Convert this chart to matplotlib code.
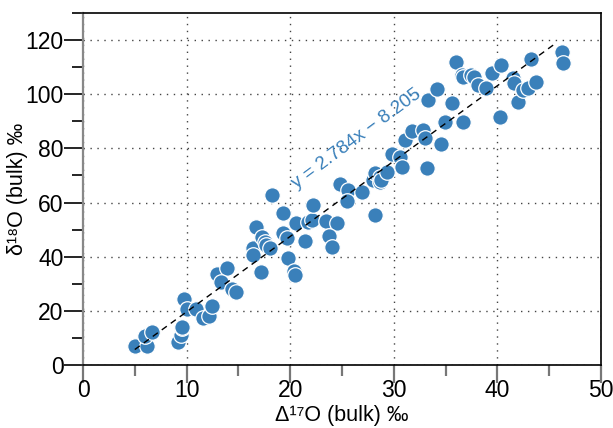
import matplotlib
matplotlib.use("Agg")
import matplotlib.pyplot as plt
import numpy as np
from matplotlib.ticker import MultipleLocator

plt.rcParams['font.family'] = ['Liberation Sans', 'DejaVu Sans']

# Bulk oxygen isotope measurements
d17_bulk = [5.0, 6.15, 6.0, 6.7, 9.2, 9.5, 9.6, 9.55, 9.75, 10.0, 10.9, 11.55,
            12.2, 12.5, 12.9, 13.9, 13.3, 14.35, 14.8, 16.4, 16.4, 16.7, 17.25,
            17.2, 17.6, 17.7, 18.05, 18.2, 19.3, 19.3, 19.65, 19.8, 20.4, 20.5,
            20.6, 21.4, 21.7, 22.1, 22.2, 23.5, 24.5, 23.7, 24.0, 24.8, 25.6,
            25.45, 26.9, 28.2, 28.0, 28.2, 28.7, 28.7, 28.8, 29.3, 29.8, 30.6,
            30.8, 31.1, 31.8, 32.85, 33.0, 33.25, 33.3, 34.2, 34.6, 34.9, 35.6,
            36.7, 36.05, 36.55, 36.7, 37.5, 37.7, 38.15, 38.9, 39.45, 40.35,
            40.3, 41.5, 41.6, 42.0, 42.5, 43.0, 43.2, 43.7, 46.2, 46.3]
d18_bulk = [7.1, 7.1, 10.8, 12.3, 8.6, 11.2, 13.5, 14.2, 24.4, 20.7, 20.6, 17.3,
            18.1, 21.9, 33.6, 35.9, 30.5, 28.0, 26.9, 43.1, 40.5, 51.1, 47.4,
            34.5, 45.5, 44.3, 43.1, 62.8, 56.0, 48.6, 46.8, 39.4, 34.6, 33.1,
            52.3, 45.9, 52.7, 53.7, 59.1, 53.2, 52.3, 47.7, 43.5, 67.0, 64.6,
            60.6, 64.0, 55.5, 68.5, 71.0, 69.5, 67.5, 68.3, 71.4, 78.1, 76.8,
            73.3, 83.0, 86.5, 86.8, 83.9, 72.6, 97.9, 102.0, 81.5, 89.7, 96.9,
            89.9, 111.8, 107.1, 106.3, 107.1, 106.5, 103.4, 102.3, 107.9, 110.8,
            91.7, 105.9, 104.0, 97.2, 101.5, 102.2, 112.9, 104.6, 115.5, 111.4]

# Linear fit y = slope * x + intercept
fit_slope = 2.784
fit_intercept = -8.205
fit_x_range = [5.0, 45.6]

blue = '#3a80ba'

fig = plt.figure(figsize=(6.13, 4.28), dpi=100)
ax = fig.add_axes([0.1354, 0.1472, 0.845, 0.8224])

ax.set_xlim(0, 50)
ax.set_ylim(0, 130)

ax.grid(True, which='major', linestyle=(0, (1, 4)), color='#444444', linewidth=1.0)
ax.set_axisbelow(True)

ax.scatter(d17_bulk, d18_bulk, s=125, color=blue, edgecolor='white',
           linewidth=0.9, zorder=3)

fx = np.array(fit_x_range)
ax.plot(fx, fit_slope * fx + fit_intercept, color='black', linewidth=1.0,
        linestyle=(0, (4.5, 3.5)), zorder=4)

ax.text(20.6, 65.0, 'y = 2.784x − 8.205', color=blue, fontsize=13.5,
        rotation=36.5, rotation_mode='anchor', ha='left', va='baseline', zorder=5)

ax.xaxis.set_major_locator(MultipleLocator(10))
ax.xaxis.set_minor_locator(MultipleLocator(5))
ax.yaxis.set_major_locator(MultipleLocator(20))
ax.yaxis.set_minor_locator(MultipleLocator(10))

ax.tick_params(axis='x', which='major', direction='out', length=13, width=1.6,
               color='#777777', labelsize=16.5, pad=-3)
ax.tick_params(axis='x', which='minor', direction='out', length=8, width=1.6,
               color='#777777')
ax.tick_params(axis='y', which='major', direction='out', length=14, width=1.2,
               color='black', labelsize=16.5, pad=0)
ax.tick_params(axis='y', which='minor', direction='out', length=8, width=1.2,
               color='black')

ax.spines['left'].set_color('#888888')
ax.spines['left'].set_linewidth(1.6)
for side in ('bottom', 'top', 'right'):
    ax.spines[side].set_color('black')
    ax.spines[side].set_linewidth(1.2)

ax.set_xlabel('Δ¹⁷O (bulk) ‰', fontsize=15.5)
ax.set_ylabel('δ¹⁸O (bulk) ‰', fontsize=15.5)
ax.xaxis.set_label_coords(0.5, -0.115)
ax.yaxis.set_label_coords(-0.107, 0.5)

fig.savefig('out.png', dpi=100)
